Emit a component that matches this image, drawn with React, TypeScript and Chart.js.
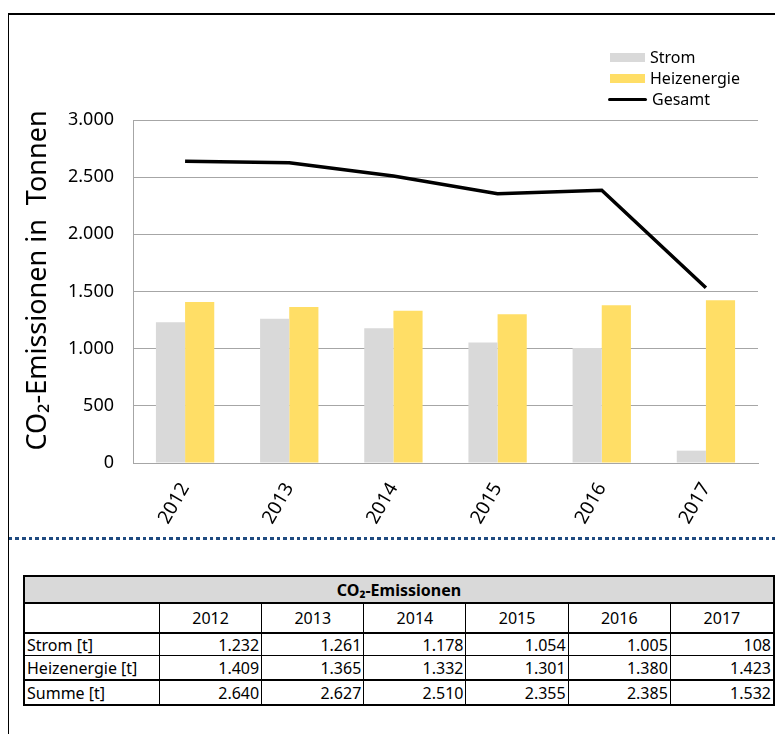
import React, { useEffect, useRef } from "react";
import { Chart, registerables } from "chart.js";

Chart.register(...registerables);

const years = ["2012", "2013", "2014", "2015", "2016", "2017"];
const strom = [1232, 1261, 1178, 1054, 1005, 108];
const heizenergie = [1409, 1365, 1332, 1301, 1380, 1423];
const gesamt = [2640, 2627, 2510, 2355, 2385, 1532];
const yMin = 0;
const yMax = 3000;
const yStep = 500;
const yTitle = "CO₂-Emissionen in  Tonnen";
const tableTitle = "CO₂-Emissionen";

const fmt = (v: number) => String(Math.round(v)).replace(/\B(?=(\d{3})+(?!\d))/g, ".");

const GRAY = "#d9d9d9";
const YELLOW = "#ffde66";
const FONT = "'Noto Sans', 'Open Sans', sans-serif";
const TFONT = "'Noto Sans', 'Open Sans', sans-serif";

const yTitlePlugin = {
  id: "yTitleCustom",
  afterDraw(chart: any) {
    const ctx = chart.ctx;
    const area = chart.chartArea;
    ctx.save();
    ctx.font = `27px ${FONT}`;
    ctx.fillStyle = "#000";
    ctx.textAlign = "center";
    ctx.textBaseline = "middle";
    ctx.translate(30, (area.top + area.bottom) / 2 - 11);
    ctx.rotate(-Math.PI / 2);
    ctx.fillText(yTitle, 0, 0);
    ctx.restore();
  },
};

function ChartCanvas() {
  const ref = useRef<HTMLCanvasElement | null>(null);
  useEffect(() => {
    if (!ref.current) return;
    const chart = new Chart(ref.current, {
      type: "bar",
      data: {
        labels: years,
        datasets: [
          {
            type: "line",
            label: "Gesamt",
            data: gesamt,
            borderColor: "#000",
            backgroundColor: "#000",
            borderWidth: 3.5,
            pointRadius: 0,
            tension: 0,
            order: 0,
          } as any,
          {
            label: "Strom",
            data: strom,
            backgroundColor: GRAY,
            categoryPercentage: 0.56,
            barPercentage: 1,
            order: 1,
          },
          {
            label: "Heizenergie",
            data: heizenergie,
            backgroundColor: YELLOW,
            categoryPercentage: 0.56,
            barPercentage: 1,
            order: 1,
          },
        ],
      },
      options: {
        animation: false,
        responsive: true,
        maintainAspectRatio: false,
        layout: { padding: { top: 105, right: 25, left: 0, bottom: 0 } },
        plugins: { legend: { display: false }, tooltip: { enabled: false } },
        scales: {
          x: {
            grid: { display: false, drawTicks: false },
            border: { color: "#a6a6a6", width: 1 },
            ticks: {
              minRotation: 60,
              maxRotation: 60,
              padding: 16,
              color: "#000",
              font: { family: FONT, size: 19 },
            },
            afterFit: (s: any) => {
              s.height = 67;
            },
          },
          y: {
            min: yMin,
            max: yMax,
            grid: { color: "#a6a6a6", lineWidth: 1, drawTicks: false },
            border: { color: "#a6a6a6", width: 1 },
            ticks: {
              stepSize: yStep,
              padding: 19,
              color: "#000",
              font: { family: FONT, size: 18 },
              callback: (v: any) => fmt(Number(v)),
            },
            title: { display: false, text: yTitle },
            afterFit: (s: any) => {
              s.width = 125;
            },
          },
        },
      },
      plugins: [yTitlePlugin],
    });
    return () => chart.destroy();
  }, []);
  return <canvas ref={ref} />;
}

const legendItems = [
  { label: "Strom", kind: "box", color: GRAY },
  { label: "Heizenergie", kind: "box", color: YELLOW },
  { label: "Gesamt", kind: "line", color: "#000" },
];

export default function App() {
  const rows = [
    { label: "Strom [t]", values: strom, top: 2, h: 23 },
    { label: "Heizenergie [t]", values: heizenergie, top: 1, h: 24 },
    { label: "Summe [t]", values: gesamt, top: 2, h: 25 },
  ];
  const cell = (i: number, h: number, extra: React.CSSProperties): React.CSSProperties => ({
    boxSizing: "border-box",
    height: h,
    borderRight: i === 6 ? "none" : "1.5px solid #000",
    padding: "0 2px",
    whiteSpace: "nowrap",
    overflow: "hidden",
    display: "flex",
    alignItems: "center",
    ...extra,
  });
  return (
    <div style={{ position: "relative", width: 775, height: 726 }}>
      <style>{"html,body{overflow:hidden}"}</style>
      <div
        style={{
          position: "absolute",
          left: -1,
          top: 5,
          width: 790,
          height: 740,
          border: "2px solid #000",
          boxSizing: "border-box",
        }}
      />
      <div style={{ position: "absolute", left: 0, top: 7, width: 775, height: 515 }}>
        <ChartCanvas />
      </div>
      <div style={{ position: "absolute", left: 600, top: 39, fontFamily: FONT, fontSize: 16, color: "#000" }}>
        {legendItems.map((it) => (
          <div key={it.label} style={{ display: "flex", alignItems: "center", height: 21 }}>
            {it.kind === "box" ? (
              <span style={{ display: "inline-block", width: 35, height: 9, background: it.color, marginLeft: 2 }} />
            ) : (
              <span style={{ display: "inline-block", width: 39, height: 3.5, background: it.color, borderRadius: 2 }} />
            )}
            <span style={{ marginLeft: 5, lineHeight: "21px" }}>{it.label}</span>
          </div>
        ))}
      </div>
      <div
        style={{
          position: "absolute",
          left: -6,
          top: 529,
          width: 781,
          height: 2.5,
          background: "repeating-linear-gradient(to right, #1f4a80 0 3.7px, transparent 3.7px 6.7px)",
        }}
      />
      <div
        style={{
          position: "absolute",
          left: 15,
          top: 567,
          width: 752,
          boxSizing: "border-box",
          border: "2px solid #000",
          display: "grid",
          gridTemplateColumns: "135px repeat(6, 1fr)",
          fontFamily: TFONT,
          fontSize: 16,
          color: "#000",
        }}
      >
        <div
          style={{
            gridColumn: "1 / span 7",
            height: 27,
            boxSizing: "border-box",
            background: GRAY,
            borderBottom: "2px solid #000",
            fontWeight: "bold",
            display: "flex",
            alignItems: "center",
            justifyContent: "center",
          }}
        >
          {tableTitle}
        </div>
        <div style={cell(0, 28, {})} />
        {years.map((y, i) => (
          <div key={y} style={cell(i + 1, 28, { justifyContent: "center" })}>
            {y}
          </div>
        ))}
        {rows.map((r) => (
          <React.Fragment key={r.label}>
            <div style={cell(0, r.h, { borderTop: `${r.top}px solid #000`, justifyContent: "flex-start" })}>{r.label}</div>
            {r.values.map((v, i) => (
              <div key={i} style={cell(i + 1, r.h, { borderTop: `${r.top}px solid #000`, justifyContent: "flex-end" })}>
                {fmt(v)}
              </div>
            ))}
          </React.Fragment>
        ))}
      </div>
    </div>
  );
}
